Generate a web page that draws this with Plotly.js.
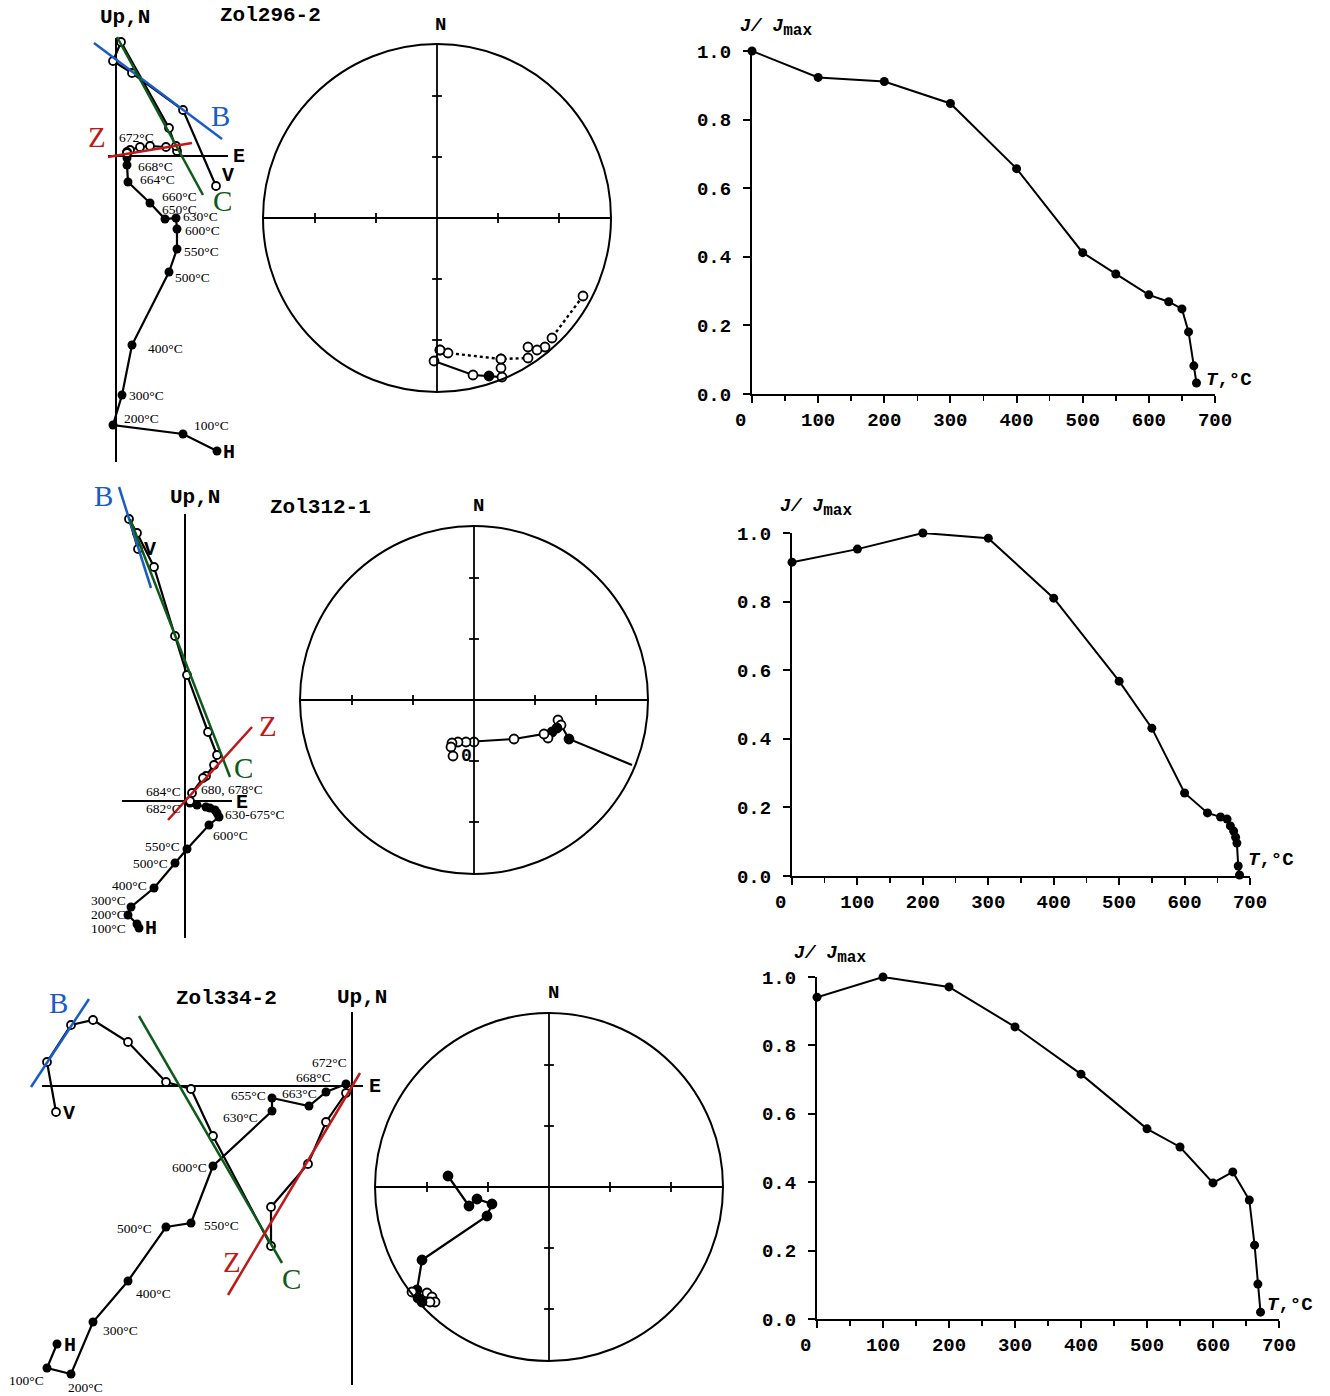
<!DOCTYPE html>
<html><head><meta charset="utf-8">
<script src="https://cdn.plot.ly/plotly-3.0.1.min.js"></script>
<style>html,body{margin:0;padding:0;background:#fff;}#chart{width:1330px;height:1396px;}</style>
</head><body><div id="chart"></div>
<script>
// ================= DATA =================
// --- Zol296-2 : Zijderveld components (relative units) ---
const zij1HorX = [101,67,-3,6,16,53,61,61,60,49,34,12,11,11];          // E (horizontal projection)
const zij1HorY = [-295,-278,-269,-239,-189,-116,-93,-73,-62,-63,-47,-26,-9,-2]; // N
const zij1VerX = [100,67,16,-3,5,53,61,60,50,34,24,14,11,11];           // E (vertical projection)
const zij1VerY = [-30,46,83,95,114,28,5,10,9,10,9,6,4,3];              // Up
const zij1Fits = [['B',-22,113,106,17],['C',1,119,87,-39],['Z',-8,-1,76,13]];
const zij1Labels = [['h',13,'672°C'],['h',12,'668°C'],['h',11,'664°C'],['h',10,'660°C'],['h',9,'650°C'],
  ['h',8,'630°C'],['h',7,'600°C'],['h',6,'550°C'],['h',5,'500°C'],['h',4,'400°C'],['h',3,'300°C'],
  ['h',2,'200°C'],['h',1,'100°C'],['v',0,'V'],['h',0,'H']];

// --- Zol312-1 ---
const zij2HorX = [-46,-48,-57,-54,-31,-10,2,24,34,32,30,25,21,12,5];
const zij2HorY = [-127,-123,-114,-106,-87,-62,-48,-24,-16,-12,-9,-7,-6,-4,-2];
const zij2VerX = [-47,-56,-48,-31,-10,2,23,32,29,21,18,7,5];
const zij2VerY = [252,282,268,234,165,126,69,46,36,25,23,8,0];
const zij2Fits = [['B',-66,314,-34,213],['C',-55,282,45,24],['Z',-17,-19,67,74]];
const zij2Labels = [['h',1,'100°C'],['h',2,'200°C'],['h',3,'300°C'],['h',4,'400°C'],['h',5,'500°C'],
  ['h',6,'550°C'],['h',7,'600°C'],['h',8,'630-675°C'],['h',14,'682°C'],['v',12,'684°C'],['v',11,'680, 678°C'],
  ['v',0,'V'],['h',0,'H']];

// --- Zol334-2 ---
const zij3HorX = [-295,-305,-281,-259,-224,-186,-161,-139,-80,-80,-43,-26,-6];
const zij3HorY = [-258,-282,-288,-236,-195,-141,-137,-80,-25,-12,-20,-6,2];
const zij3VerX = [-296,-305,-281,-259,-224,-186,-161,-139,-81,-81,-44,-26,-6];
const zij3VerY = [-26,24,61,66,44,4,-3,-50,-160,-121,-78,-36,-7];
const zij3Fits = [['B',-321,-1,-263,87],['C',-213,70,-70,-177],['Z',-124,-209,8,13]];
const zij3Labels = [['h',12,'672°C'],['h',11,'668°C'],['h',10,'663°C'],['h',9,'655°C'],['h',8,'630°C'],
  ['h',7,'600°C'],['h',6,'550°C'],['h',5,'500°C'],['h',4,'400°C'],['h',3,'300°C'],['h',2,'200°C'],
  ['h',1,'100°C'],['v',0,'V'],['h',0,'H']];

// --- Stereonet projections (net radius = 174 units) ---
const st1UpX = [146,115,108,100,91,91,64,11,3];
const st1UpY = [-78,-120,-129,-132,-129,-140,-141,-135,-132];
const st1LoX = [3,-3,36,52,65,64,64];
const st1LoY = [-132,-143,-157,-158,-159,-150,-141];
const st1LoFilled = [0,0,0,1,0,0,0];

const st2X = [158,95,84,87,83,78,74,70,40,0,-8,-16,-22,-23,-21];
const st2Y = [-65,-39,-20,-25,-28,-32,-38,-34,-39,-42,-42,-42,-43,-47,-56];
const st2Filled = [-1,1,0,0,1,1,0,0,0,0,0,0,0,0,0];

const st3X = [-101,-80,-72,-57,-62,-127,-132,-137,-131,-122,-117,-114,-119,-127];
const st3Y = [11,-19,-12,-17,-29,-73,-103,-105,-111,-106,-110,-115,-115,-115];
const st3Filled = [1,1,1,1,1,1,1,0,1,0,0,0,0,1];

// --- Demagnetisation curves J/Jmax vs T ---
const dem1T = [0,100,200,300,400,500,550,600,630,650,660,668,672];
const dem1J = [1.0,0.923,0.911,0.847,0.657,0.412,0.350,0.289,0.269,0.248,0.181,0.082,0.032];
const dem2T = [0,100,200,300,400,500,550,600,635,655,665,670,675,678,680,682,684];
const dem2J = [0.915,0.953,1.0,0.985,0.81,0.568,0.431,0.242,0.184,0.172,0.166,0.146,0.131,0.113,0.096,0.029,0.003];
const dem3T = [0,100,200,300,400,500,550,600,630,655,663,668,672];
const dem3J = [0.941,1.0,0.971,0.854,0.716,0.556,0.503,0.398,0.430,0.348,0.216,0.102,0.02];
const demXTicks = [0,100,200,300,400,500,600,700];
const demXTickText = ['0\u00a0\u00a0','100','200','300','400','500','600','700'];

// ================= LAYOUT / STYLE =================
const W=1330, H=1396;
const FM='Liberation Mono, Courier New, monospace';
const FS='Liberation Serif, Times New Roman, serif';
const FIT_COL={B:'#1a5cc6', C:'#0e5a1a', Z:'#c01818'};
const R=174, TICKS=[61,122];
const traces=[], shapes=[], ann=[];
const layout={width:W,height:H,margin:{l:0,r:0,t:0,b:0},paper_bgcolor:'#fff',plot_bgcolor:'rgba(0,0,0,0)',showlegend:false,hovermode:false};

function axNames(n){return {xk:n===1?'xaxis':'xaxis'+n, yk:n===1?'yaxis':'yaxis'+n, xa:n===1?'x':'x'+n, ya:n===1?'y':'y'+n};}
function hiddenAxes(n, box, o){
  const a=axNames(n);
  layout[a.xk]={domain:[box[0]/W,box[1]/W],range:[box[0]-o[0],box[1]-o[0]],visible:false,anchor:a.ya,fixedrange:true};
  layout[a.yk]={domain:[(H-box[3])/H,(H-box[2])/H],range:[o[1]-box[3],o[1]-box[2]],visible:false,anchor:a.xa,fixedrange:true};
  return a;
}
function paperText(x,y,text,font,extra){
  ann.push(Object.assign({xref:'paper',yref:'paper',x:x/W,y:(H-y)/H,text:text,showarrow:false,xanchor:'center',yanchor:'middle',font:font},extra||{}));
}
const monoBold=(s)=>({family:FM,size:s,color:'#000',weight:'bold'});

function zij(n, cfg, d){
  const a=hiddenAxes(n,cfg.box,cfg.origin);
  const common={xaxis:a.xa,yaxis:a.ya,hoverinfo:'skip',cliponaxis:false};
  traces.push(Object.assign({x:[0,0],y:cfg.vAxis,mode:'lines',line:{color:'#000',width:2}},common));
  traces.push(Object.assign({x:cfg.hAxis,y:[0,0],mode:'lines',line:{color:'#000',width:2}},common));
  traces.push(Object.assign({x:d.horX,y:d.horY,mode:'lines+markers',line:{color:'#000',width:2.2},
    marker:{symbol:'circle',size:9,color:'#000',opacity:1}},common));
  traces.push(Object.assign({x:d.verX,y:d.verY,mode:'lines+markers',line:{color:'#000',width:2.2},
    marker:{symbol:'circle',size:8,color:'#fff',opacity:1,line:{color:'#000',width:1.8}}},common));
  d.fits.forEach(f=>traces.push(Object.assign({x:[f[1],f[3]],y:[f[2],f[4]],mode:'lines',line:{color:FIT_COL[f[0]],width:2.5}},common)));
  d.labels.forEach((l,i)=>{
    const off=cfg.labelOff[i];
    const sx = l[0]==='h'?d.horX:d.verX, sy = l[0]==='h'?d.horY:d.verY;
    const isLetter = (l[2]==='V'||l[2]==='H');
    ann.push({xref:a.xa,yref:a.ya,x:sx[l[1]],y:sy[l[1]],text:l[2],showarrow:false,
      xanchor:off[0],yanchor:'middle',xshift:off[1],yshift:-off[2],borderpad:0,
      font:isLetter?monoBold(20):{family:FS,size:13.5,color:'#000'}});
  });
  const t=cfg.text;
  paperText(t.title[0],t.title[1],t.title[2],monoBold(21));
  paperText(t.up[0],t.up[1],'Up,N',monoBold(21));
  paperText(t.e[0],t.e[1],'E',monoBold(20));
  ['B','C','Z'].forEach(k=>paperText(t[k][0],t[k][1],k,{family:FS,size:29,color:FIT_COL[k]}));
}

function stereo(n, c, nPos){
  const box=[c[0]-180,c[0]+180,c[1]-180,c[1]+180];
  const a=hiddenAxes(n,box,c);
  shapes.push({type:'circle',xref:a.xa,yref:a.ya,x0:-R,x1:R,y0:-R,y1:R,line:{color:'#000',width:2}});
  shapes.push({type:'line',xref:a.xa,yref:a.ya,x0:-R,x1:R,y0:0,y1:0,line:{color:'#000',width:1.8}});
  shapes.push({type:'line',xref:a.xa,yref:a.ya,x0:0,x1:0,y0:-R,y1:R,line:{color:'#000',width:1.8}});
  const tk=[-TICKS[1],-TICKS[0],TICKS[0],TICKS[1]];
  traces.push({x:tk,y:[0,0,0,0],xaxis:a.xa,yaxis:a.ya,mode:'markers',hoverinfo:'skip',marker:{symbol:'line-ns',size:7,line:{color:'#000',width:1.8}}});
  traces.push({x:[0,0,0,0],y:tk,xaxis:a.xa,yaxis:a.ya,mode:'markers',hoverinfo:'skip',marker:{symbol:'line-ew',size:7,line:{color:'#000',width:1.8}}});
  paperText(nPos[0],nPos[1],'N',monoBold(19));
  return a;
}
function stPath(a,x,y,filled,dash){
  traces.push({x:x,y:y,xaxis:a.xa,yaxis:a.ya,mode:'lines+markers',hoverinfo:'skip',cliponaxis:false,
    line:{color:'#000',width:dash?2.4:2.2,dash:dash||'solid'},
    marker:{symbol:'circle',opacity:1,size:filled.map(f=>f<0?0:9),color:filled.map(f=>f>0?'#000':'#fff'),line:{color:'#000',width:1.8}}});
}

function demag(n, xPix, yPix, T, J, titlePos, tPos){
  const a=axNames(n);
  const tf=monoBold(19);
  layout[a.xk]={domain:[xPix[0]/W,xPix[1]/W],range:[0,700],anchor:a.ya,showline:true,linecolor:'#000',linewidth:2,
    ticks:'outside',ticklen:7,tickwidth:2,tickcolor:'#000',tickmode:'array',tickvals:demXTicks,ticktext:demXTickText,
    showgrid:false,zeroline:false,tickfont:tf,ticklabelstandoff:0,fixedrange:true,
    minor:{ticks:'outside',dtick:50,tick0:0,ticklen:5,tickwidth:1.5,tickcolor:'#000',showgrid:false}};
  layout[a.yk]={domain:[(H-yPix[1])/H,(H-yPix[0])/H],range:[0,1],anchor:a.xa,showline:true,linecolor:'#000',linewidth:2,
    ticks:'outside',ticklen:7,tickwidth:2,tickcolor:'#000',dtick:0.2,tick0:0,tickformat:'.1f',showgrid:false,zeroline:false,
    tickfont:tf,ticklabelstandoff:8,fixedrange:true};
  traces.push({x:T,y:J,xaxis:a.xa,yaxis:a.ya,mode:'lines+markers',hoverinfo:'skip',cliponaxis:false,
    line:{color:'#000',width:2},marker:{symbol:'circle',size:9,color:'#000',opacity:1}});
  paperText(titlePos[0],titlePos[1],'<i>J/ J</i><sub><span style="font-size:16px">max</span></sub>',monoBold(18));
  paperText(tPos[0],tPos[1],'<i>T</i>,°C',monoBold(19));
}

// ---- Row 1 ----
zij(1,{box:[0,260,0,470],origin:[116,156],vAxis:[118,-306],hAxis:[-8,112],
  labelOff:[['left',-9,-21],['left',10,1],['left',11,-3],['left',11,-7],['left',-4,-10],['left',6,-2],['left',7,1],
    ['left',6,2],['left',5,5],['left',15,3],['left',6,0],['left',10,-7],['left',10,-9],['left',5,-11],['left',5,1]],
  text:{title:[270,15,'Zol296-2'],up:[125,18],e:[239,156],B:[220,116],Z:[97,137],C:[222,201]}},
  {horX:zij1HorX,horY:zij1HorY,verX:zij1VerX,verY:zij1VerY,fits:zij1Fits,labels:zij1Labels});
const s1=stereo(2,[437,218],[440,25]);
stPath(s1,st1UpX,st1UpY,st1UpX.map(()=>0),'dot');
stPath(s1,st1LoX,st1LoY,st1LoFilled,null);
demag(3,[752,1215],[51,394],dem1T,dem1J,[776,28],[1229,380]);

// ---- Row 2 ----
zij(4,{box:[80,300,470,945],origin:[185,801],vAxis:[287,-137],hAxis:[-63,47],
  labelOff:[['right',-10,4],['right',-1,-1],['right',-4,-7],['right',-6,-3],['right',-6,0],['right',-6,-3],
    ['left',3,10],['left',5,-3],['right',-8,5],['right',-8,-10],['left',8,-4],['left',5,0],['left',5,0]],
  text:{title:[320,507,'Zol312-1'],up:[195,497],e:[242,802],B:[103,496],Z:[268,726],C:[243,768]}},
  {horX:zij2HorX,horY:zij2HorY,verX:zij2VerX,verY:zij2VerY,fits:zij2Fits,labels:zij2Labels});
const s2=stereo(5,[474,700],[478,506]);
stPath(s2,st2X,st2Y,st2Filled,null);
paperText(466,756,'0',monoBold(18));
demag(6,[792,1250],[533,876],dem2T,dem2J,[816,508],[1271,860]);

// ---- Row 3 ----
zij(7,{box:[0,400,975,1396],origin:[352,1086],vAxis:[74,-299],hAxis:[-310,11],
  labelOff:[['right',2,-22],['right',6,-15],['right',9,-13],['right',-5,-3],['right',-13,6],['right',-5,1],
    ['left',12,2],['right',-13,1],['left',7,12],['left',9,8],['left',-4,13],['right',-2,12],['left',6,1],['left',6,1]],
  text:{title:[226,998,'Zol334-2'],up:[362,997],e:[375,1086],B:[58,1003],Z:[232,1262],C:[291,1279]}},
  {horX:zij3HorX,horY:zij3HorY,verX:zij3VerX,verY:zij3VerY,fits:zij3Fits,labels:zij3Labels});
const s3=stereo(8,[549,1187],[553,993]);
stPath(s3,st3X,st3Y,st3Filled,null);
demag(9,[817,1279],[977,1319],dem3T,dem3J,[830,955],[1290,1305]);

layout.shapes=shapes; layout.annotations=ann;
Plotly.newPlot('chart',traces,layout,{staticPlot:true,displayModeBar:false});
</script></body></html>
